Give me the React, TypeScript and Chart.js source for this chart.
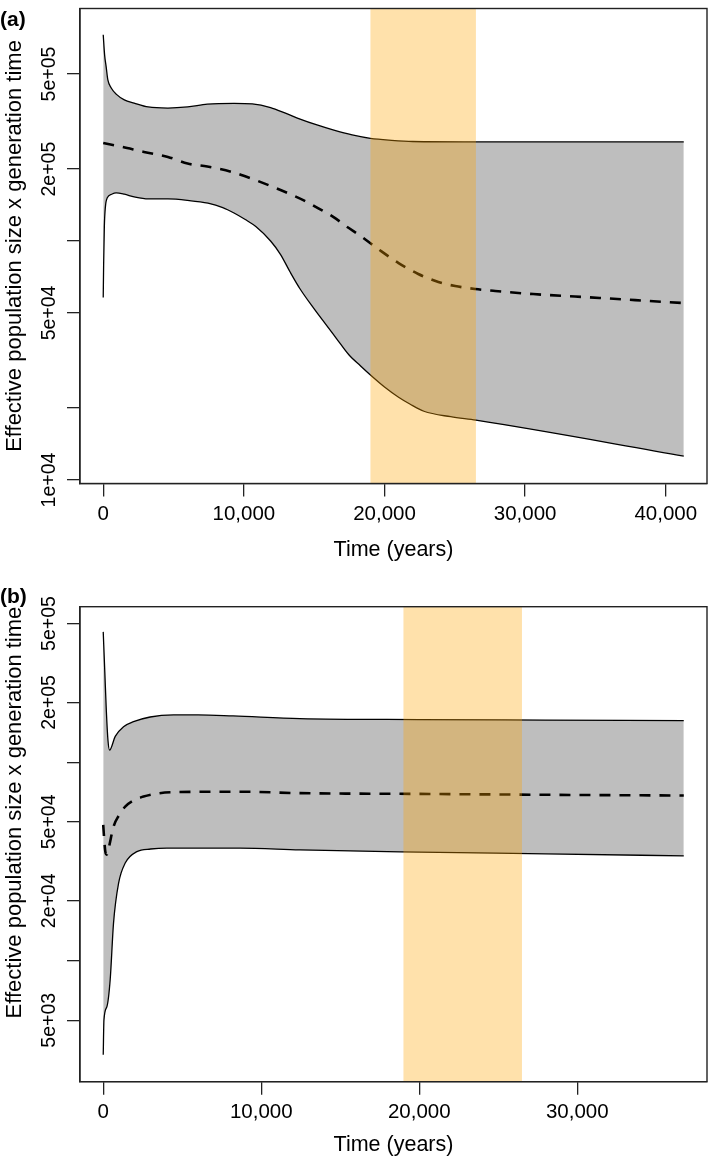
import React, { useEffect, useRef } from 'react';
import { Chart, registerables } from 'chart.js';

Chart.register(...registerables);

const FONT = "'Liberation Sans', Arial, Helvetica, sans-serif";

// ---------- Panel (a) ----------
const aUpperTime = [0, 100, 210, 330, 570, 920, 1500, 2200, 3200, 4600, 6000, 7400, 9300, 10600, 11900, 13000, 14000, 15200, 16400, 17700, 19000, 20500, 22000, 26300, 41280];
const aUpperNe = [7.3e5, 6.0e5, 5.36e5, 4.72e5, 4.37e5, 4.12e5, 3.9e5, 3.78e5, 3.64e5, 3.6e5, 3.64e5, 3.74e5, 3.77e5, 3.75e5, 3.62e5, 3.42e5, 3.24e5, 3.06e5, 2.91e5, 2.78e5, 2.69e5, 2.64e5, 2.61e5, 2.6e5, 2.6e5];

const aLowerTime = [0, 30, 80, 150, 300, 600, 920, 1500, 2200, 3200, 4600, 6000, 7450, 8500, 9300, 10100, 10850, 11900, 12600, 13300, 14000, 15000, 15800, 16600, 17450, 18300, 19000, 20000, 21000, 21800, 22800, 24700, 26500, 41280];
const aLowerNe = [5.8e4, 8.0e4, 1.15e5, 1.38e5, 1.52e5, 1.57e5, 1.59e5, 1.57e5, 1.53e5, 1.5e5, 1.5e5, 1.48e5, 1.44e5, 1.38e5, 1.31e5, 1.23e5, 1.15e5, 1.0e5, 8.8e4, 7.4e4, 6.3e4, 5.2e4, 4.5e4, 3.9e4, 3.35e4, 3.0e4, 2.75e4, 2.45e4, 2.22e4, 2.08e4, 1.94e4, 1.84e4, 1.78e4, 1.26e4];

const aMedianTime = [0, 1300, 2900, 4600, 6000, 7400, 9100, 10600, 11900, 13100, 14260, 15300, 16380, 17300, 18300, 19650, 21000, 22400, 23830, 25030, 26450, 27870, 30570, 35300, 41280];
const aMedianNe = [2.57e5, 2.48e5, 2.36e5, 2.25e5, 2.11e5, 2.05e5, 1.95e5, 1.82e5, 1.70e5, 1.59e5, 1.48e5, 1.37e5, 1.26e5, 1.15e5, 1.05e5, 9.17e4, 8.09e4, 7.28e4, 6.74e4, 6.48e4, 6.3e4, 6.18e4, 6.0e4, 5.78e4, 5.5e4];

const aXTicks = [0, 10000, 20000, 30000, 40000];
const aYTicks = [1e4, 2e4, 5e4, 1e5, 2e5, 5e5];
const aYLabels = ['1e+04', '', '5e+04', '', '2e+05', '5e+05'];
const aXRange = [-1651, 42931];
const aYRange = [9.67e3, 9.4e5];

// ---------- Panel (b) ----------
const bUpperTime = [0, 100, 200, 300, 400, 760, 1285, 1915, 2970, 4445, 6000, 8220, 12450, 20000, 28000, 36740];
const bUpperNe = [4.54e5, 2.85e5, 1.79e5, 1.29e5, 1.15e5, 1.35e5, 1.51e5, 1.6e5, 1.69e5, 1.73e5, 1.73e5, 1.71e5, 1.66e5, 1.64e5, 1.63e5, 1.62e5];

const bLowerTime = [0, 45, 234, 440, 650, 970, 1390, 2130, 3000, 4030, 8660, 12450, 20000, 28000, 36740];
const bLowerNe = [3.35e3, 5.0e3, 5.86e3, 8.0e3, 1.54e4, 2.45e4, 3.1e4, 3.54e4, 3.65e4, 3.69e4, 3.69e4, 3.61e4, 3.52e4, 3.45e4, 3.37e4];

const bMedianTime = [0, 60, 130, 220, 350, 650, 1000, 1390, 1900, 2550, 3400, 4445, 8660, 12450, 20000, 28000, 36740];
const bMedianNe = [4.83e4, 4.1e4, 3.55e4, 3.42e4, 3.7e4, 4.73e4, 5.4e4, 5.97e4, 6.4e4, 6.71e4, 6.95e4, 7.06e4, 7.1e4, 6.98e4, 6.92e4, 6.85e4, 6.79e4];

const bXTicks = [0, 10000, 20000, 30000];
const bYTicks = [5e3, 1e4, 2e4, 5e4, 1e5, 2e5, 5e5];
const bYLabels = ['5e+03', '', '2e+04', '5e+04', '', '2e+05', '5e+05'];
const bXRange = [-1470, 38210];
const bYRange = [2.45e3, 6.08e5];

// Last Glacial Maximum band (years)
const lgmStart = 19000;
const lgmEnd = 26500;

const xTitle = 'Time (years)';
const yTitle = 'Effective population size x generation time';

type PanelCfg = {
  upperT: number[]; upperV: number[];
  lowerT: number[]; lowerV: number[];
  medT: number[]; medV: number[];
  xTicks: number[]; yTicks: number[]; yLabels: string[];
  xRange: number[]; yRange: number[];
  padding: { top: number; left: number; right: number; bottom: number };
  xAxisHeight: number;
  yTitleAlign: 'start' | 'center' | 'end';
};

const bandPlugin = {
  id: 'lgmBand',
  afterDatasetsDraw(chart: any) {
    const { ctx, chartArea, scales } = chart;
    const x0 = scales.x.getPixelForValue(lgmStart);
    const x1 = scales.x.getPixelForValue(lgmEnd);
    ctx.save();
    ctx.fillStyle = 'rgba(255,165,0,0.33)';
    ctx.fillRect(x0, chartArea.top, x1 - x0, chartArea.bottom - chartArea.top);
    ctx.restore();
  },
};

const boxPlugin = {
  id: 'plotBox',
  afterDraw(chart: any) {
    const { ctx, chartArea } = chart;
    ctx.save();
    ctx.strokeStyle = '#222';
    ctx.lineWidth = 1.4;
    ctx.strokeRect(chartArea.left, chartArea.top, chartArea.right - chartArea.left, chartArea.bottom - chartArea.top);
    ctx.restore();
  },
};

function makeChart(canvas: HTMLCanvasElement, cfg: PanelCfg) {
  const pts = (t: number[], v: number[]) => t.map((x, i) => ({ x, y: v[i] }));
  const gridCfg = { display: true, drawOnChartArea: false, drawTicks: true, tickLength: 13, color: '#222', lineWidth: 1.3 };
  const borderCfg = { display: true, color: '#222', width: 1.3 };
  return new Chart(canvas, {
    type: 'line',
    data: {
      datasets: [
        { data: pts(cfg.upperT, cfg.upperV), borderColor: '#000', borderWidth: 1.3, backgroundColor: '#BEBEBE', fill: '+1', pointRadius: 0, cubicInterpolationMode: 'monotone' },
        { data: pts(cfg.lowerT, cfg.lowerV), borderColor: '#000', borderWidth: 1.3, fill: false, pointRadius: 0, cubicInterpolationMode: 'monotone' },
        { data: pts(cfg.medT, cfg.medV), borderColor: '#000', borderWidth: 2.6, borderDash: [11, 9], fill: false, pointRadius: 0, cubicInterpolationMode: 'monotone' },
      ],
    } as any,
    options: {
      animation: false,
      responsive: false,
      events: [],
      layout: { padding: cfg.padding },
      plugins: {
        legend: { display: false },
        tooltip: { enabled: false },
        filler: { drawTime: 'beforeDatasetsDraw' },
      },
      scales: {
        x: {
          type: 'linear',
          min: cfg.xRange[0],
          max: cfg.xRange[1],
          afterFit: (s: any) => { s.height = cfg.xAxisHeight; },
          afterBuildTicks: (s: any) => { s.ticks = cfg.xTicks.map((v) => ({ value: v })); },
          ticks: {
            autoSkip: false, maxRotation: 0, minRotation: 0, padding: 5.3,
            color: '#000', font: { family: FONT, size: 20.5 },
            callback: (v: any) => Number(v).toLocaleString('en-US'),
          },
          grid: gridCfg,
          border: borderCfg,
          title: { display: true, text: xTitle, color: '#000', font: { family: FONT, size: 21.5 }, padding: 0 },
        },
        y: {
          type: 'logarithmic',
          min: cfg.yRange[0],
          max: cfg.yRange[1],
          afterFit: (s: any) => { s.width = 80; },
          afterBuildTicks: (s: any) => { s.ticks = cfg.yTicks.map((v) => ({ value: v })); },
          ticks: {
            autoSkip: false, minRotation: 90, maxRotation: 90, crossAlign: 'center', padding: -10.4,
            color: '#000', font: { family: FONT, size: 19.5 },
            callback: (_v: any, i: number) => cfg.yLabels[i],
          },
          grid: gridCfg,
          border: borderCfg,
          title: { display: true, text: yTitle, color: '#000', align: cfg.yTitleAlign, font: { family: FONT, size: 22 }, padding: { top: 1.3, bottom: 0 } },
        },
      },
    } as any,
    plugins: [bandPlugin, boxPlugin],
  });
}

const panelA: PanelCfg = {
  upperT: aUpperTime, upperV: aUpperNe, lowerT: aLowerTime, lowerV: aLowerNe, medT: aMedianTime, medV: aMedianNe,
  xTicks: aXTicks, yTicks: aYTicks, yLabels: aYLabels, xRange: aXRange, yRange: aYRange,
  padding: { top: 8.5, left: 0, right: 2, bottom: 17.1 },
  xAxisHeight: 79.4,
  yTitleAlign: 'center',
};

const panelB: PanelCfg = {
  upperT: bUpperTime, upperV: bUpperNe, lowerT: bLowerTime, lowerV: bLowerNe, medT: bMedianTime, medV: bMedianNe,
  xTicks: bXTicks, yTicks: bYTicks, yLabels: bYLabels, xRange: bXRange, yRange: bYRange,
  padding: { top: 26.7, left: 0, right: 2, bottom: 0.9 },
  xAxisHeight: 76.4,
  yTitleAlign: 'end',
};

function Panel({ cfg, top, height }: { cfg: PanelCfg; top: number; height: number }) {
  const ref = useRef<HTMLCanvasElement | null>(null);
  useEffect(() => {
    if (!ref.current) return;
    const chart = makeChart(ref.current, cfg);
    return () => chart.destroy();
  }, [cfg]);
  return (
    <canvas
      ref={ref}
      width={709}
      height={height}
      style={{ position: 'absolute', left: 0, top, width: 709, height, display: 'block' }}
    />
  );
}

const labelStyle: React.CSSProperties = {
  position: 'absolute', left: 0, fontFamily: FONT, fontWeight: 'bold', fontSize: 21, lineHeight: '21px', color: '#000', zIndex: 2,
};

export default function App() {
  return (
    <div style={{ position: 'absolute', left: 0, top: 0, width: 709, height: 1159, background: '#fff', overflow: 'hidden' }}>
      <Panel cfg={panelA} top={0} height={580} />
      <Panel cfg={panelB} top={580} height={579} />
      <div style={{ ...labelStyle, top: 7.5 }}>(a)</div>
      <div style={{ ...labelStyle, top: 584.5 }}>(b)</div>
    </div>
  );
}
